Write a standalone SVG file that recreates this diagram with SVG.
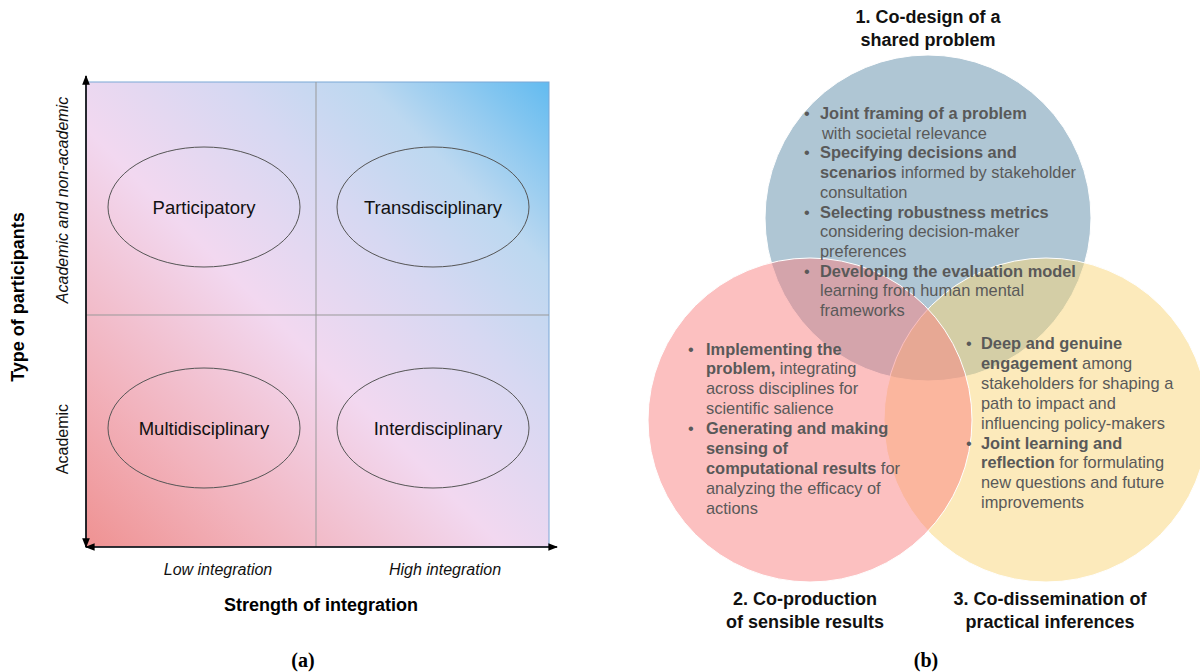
<svg xmlns="http://www.w3.org/2000/svg" width="1200" height="672" viewBox="0 0 1200 672">
<style>
text{font-family:"Liberation Sans",Arial,sans-serif;}
.q{font-size:18.5px;fill:#111;text-anchor:middle;}
.ax{font-size:18px;font-weight:bold;fill:#000;text-anchor:middle;}
.it{font-size:16px;font-style:italic;fill:#111;text-anchor:middle;}
.rg{font-size:16px;fill:#111;text-anchor:middle;}
.cap{font-family:"Liberation Serif","Times New Roman",serif;font-size:20px;font-weight:bold;fill:#000;text-anchor:middle;}
.ttl{font-size:18px;font-weight:bold;fill:#111;text-anchor:middle;}
.lst{font-size:16.4px;fill:#595959;}
.b{font-weight:bold;}
.ell{fill:none;stroke:#555;stroke-width:1;}
.grid{stroke:#999;stroke-width:1;}
.axis{stroke:#000;stroke-width:1.6;fill:none;}
.circ{stroke:#fff;stroke-width:1;}
</style>
<defs>
<linearGradient id="bg" x1="0" y1="1" x2="1" y2="0">
<stop offset="0" stop-color="#ef9292"/>
<stop offset="0.2" stop-color="#f2b3bd"/>
<stop offset="0.45" stop-color="#f2d8f0"/>
<stop offset="0.65" stop-color="#d6d8f2"/>
<stop offset="0.8" stop-color="#bcd8f0"/>
<stop offset="1" stop-color="#62bbf0"/>
</linearGradient>
<marker id="ah" viewBox="0 0 10 10" refX="9" refY="5" markerWidth="6" markerHeight="6" orient="auto-start-reverse">
<path d="M0,1 L10,5 L0,9 z" fill="#000"/>
</marker>
</defs>

<!-- Panel (a) -->
<g id="quadrant-bg">
<rect x="86" y="82" width="463" height="465" fill="url(#bg)" stroke="#7aa7d6" stroke-width="1"/>
<line class="grid" x1="316" y1="82" x2="316" y2="547"/>
<line class="grid" x1="86" y1="315" x2="549" y2="315"/>
</g>
<g id="connectors">
<line class="axis" x1="86" y1="547" x2="86" y2="76" marker-start="url(#ah)" marker-end="url(#ah)"/>
<line class="axis" x1="86" y1="547" x2="557" y2="547" marker-start="url(#ah)" marker-end="url(#ah)"/>
</g>
<g id="node-participatory">
<ellipse class="ell" cx="204" cy="207" rx="96" ry="60"/>
<text class="q" x="204" y="213.5">Participatory</text>
</g>
<g id="node-transdisciplinary">
<ellipse class="ell" cx="433" cy="207" rx="96" ry="60"/>
<text class="q" x="433" y="213.5">Transdisciplinary</text>
</g>
<g id="node-multidisciplinary">
<ellipse class="ell" cx="204" cy="428" rx="96" ry="60"/>
<text class="q" x="204" y="434.5">Multidisciplinary</text>
</g>
<g id="node-interdisciplinary">
<ellipse class="ell" cx="433" cy="428" rx="96" ry="60"/>
<text class="q" x="438" y="434.5">Interdisciplinary</text>
</g>
<g id="axis-labels">
<text class="ax" transform="translate(24,297) rotate(-90)">Type of participants</text>
<text class="it" transform="translate(67.5,200) rotate(-90)">Academic and non-academic</text>
<text class="rg" transform="translate(67.5,439) rotate(-90)">Academic</text>
<text class="it" x="218" y="575">Low integration</text>
<text class="it" x="445" y="575">High integration</text>
<text class="ax" x="321" y="611">Strength of integration</text>
<text class="cap" x="303" y="667">(a)</text>
</g>

<!-- Panel (b) -->
<g id="circle-1">
<circle class="circ" cx="928" cy="218" r="163" fill="#afc6d4"/>
</g>
<g id="circle-3">
<circle class="circ" cx="1046" cy="420" r="162" fill="#f9d577" fill-opacity="0.5"/>
</g>
<g id="circle-2">
<circle class="circ" cx="810" cy="420" r="162" fill="#fa8282" fill-opacity="0.5"/>
</g>

<g id="text-1">
<text class="ttl" x="928" y="23">1. Co-design of a</text>
<text class="ttl" x="928" y="46">shared problem</text>
<text class="lst">
<tspan x="804" y="119">•</tspan><tspan x="820" class="b">Joint framing of a problem</tspan>
<tspan x="822" y="138.7">with societal relevance</tspan>
<tspan x="804" y="158.4">•</tspan><tspan x="820" class="b">Specifying decisions and</tspan>
<tspan x="820" y="178.1" class="b">scenarios</tspan><tspan> informed by stakeholder</tspan>
<tspan x="820" y="197.8">consultation</tspan>
<tspan x="804" y="217.5">•</tspan><tspan x="820" class="b">Selecting robustness metrics</tspan>
<tspan x="820" y="237.2">considering decision-maker</tspan>
<tspan x="820" y="256.9">preferences</tspan>
<tspan x="804" y="276.6">•</tspan><tspan x="820" class="b">Developing the evaluation model</tspan>
<tspan x="820" y="296.3">learning from human mental</tspan>
<tspan x="820" y="316">frameworks</tspan>
</text>
</g>
<g id="text-2">
<text class="lst">
<tspan x="688" y="354.5">•</tspan><tspan x="706" class="b">Implementing the</tspan>
<tspan x="706" y="374.4" class="b">problem,</tspan><tspan> integrating</tspan>
<tspan x="706" y="394.3">across disciplines for</tspan>
<tspan x="706" y="414.2">scientific salience</tspan>
<tspan x="688" y="434.1">•</tspan><tspan x="706" class="b">Generating and making</tspan>
<tspan x="706" y="454" class="b">sensing of</tspan>
<tspan x="706" y="473.9" class="b">computational results</tspan><tspan> for</tspan>
<tspan x="706" y="493.8">analyzing the efficacy of</tspan>
<tspan x="706" y="513.7">actions</tspan>
</text>
<text class="ttl" x="805" y="605">2. Co-production</text>
<text class="ttl" x="805" y="628">of sensible results</text>
</g>
<g id="text-3">
<text class="lst">
<tspan x="966" y="349">•</tspan><tspan x="981" class="b">Deep and genuine</tspan>
<tspan x="981" y="368.9" class="b">engagement</tspan><tspan> among</tspan>
<tspan x="981" y="388.8">stakeholders for shaping a</tspan>
<tspan x="981" y="408.7">path to impact and</tspan>
<tspan x="981" y="428.6">influencing policy-makers</tspan>
<tspan x="966" y="448.5">•</tspan><tspan x="981" class="b">Joint learning and</tspan>
<tspan x="981" y="468.4" class="b">reflection</tspan><tspan> for formulating</tspan>
<tspan x="981" y="488.3">new questions and future</tspan>
<tspan x="981" y="508.2">improvements</tspan>
</text>
<text class="ttl" x="1050" y="605">3. Co-dissemination of</text>
<text class="ttl" x="1050" y="628">practical inferences</text>
</g>
<text class="cap" x="926" y="667">(b)</text>
</svg>
